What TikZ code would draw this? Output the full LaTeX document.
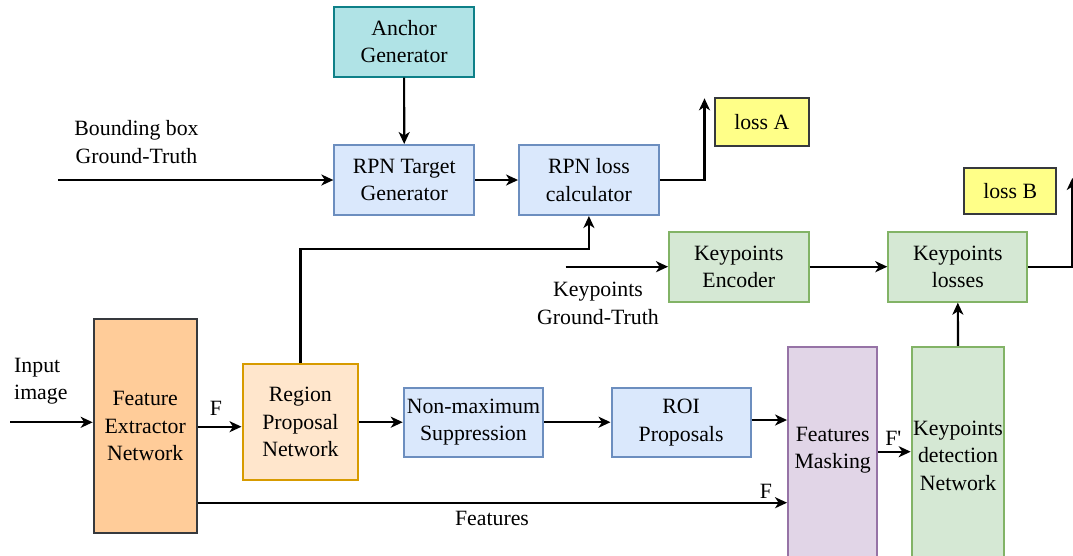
\documentclass[tikz,border=0pt]{standalone}
\usepackage{fontspec}
\setmainfont{Liberation Serif}
\newfontfamily\plainserif{Liberation Serif}
\usetikzlibrary{arrows.meta,calc}
\definecolor{tealfill}{HTML}{B0E3E6}
\definecolor{tealdraw}{HTML}{0E8088}
\definecolor{bluefill}{HTML}{DAE8FC}
\definecolor{bluedraw}{HTML}{6C8EBF}
\definecolor{yelfill}{HTML}{FFFF88}
\definecolor{darkdraw}{HTML}{36393D}
\definecolor{greenfill}{HTML}{D5E8D4}
\definecolor{greendraw}{HTML}{82B366}
\definecolor{orfill}{HTML}{FFCC99}
\definecolor{lorfill}{HTML}{FFE6CC}
\definecolor{lordraw}{HTML}{D79B00}
\definecolor{purfill}{HTML}{E1D5E7}
\definecolor{purdraw}{HTML}{9673A6}
\begin{document}
\begin{tikzpicture}[x=1pt,y=-1pt,
  every node/.style={font=\fontsize{21.8}{27.5}\selectfont},
  box/.style={draw, line width=2pt, inner sep=0pt, align=center},
  tealbox/.style={box, fill=tealfill, draw=tealdraw},
  bluebox/.style={box, fill=bluefill, draw=bluedraw},
  yelbox/.style={box, fill=yelfill, draw=darkdraw},
  greenbox/.style={box, fill=greenfill, draw=greendraw},
  orbox/.style={box, fill=orfill, draw=darkdraw},
  lorbox/.style={box, fill=lorfill, draw=lordraw},
  purbox/.style={box, fill=purfill, draw=purdraw},
  lbl/.style={inner sep=0pt, align=center},
  arr/.style={line width=2.2pt, -{Stealth[length=12pt,width=11pt,inset=3.5pt]}}
]
\useasboundingbox (0,0) rectangle (1073,555);

% boxes
\node[tealbox, minimum width=139.4pt, minimum height=70.2pt] (anchor) at (404.1,41.6) {Anchor\\Generator};
\node[bluebox, minimum width=139.7pt, minimum height=70pt] (rpnt) at (404.2,180) {RPN Target\\Generator};
\node[bluebox, minimum width=139.7pt, minimum height=70pt] (rpnl) at (588.9,180) {RPN loss\\calculator};
\node[yelbox, minimum width=93.5pt, minimum height=47.4pt] (lossA) at (761.8,122) {loss A};
\node[yelbox, minimum width=91.7pt, minimum height=46pt] (lossB) at (1010.2,191.3) {loss B};
\node[greenbox, minimum width=139.5pt, minimum height=70pt] (kpe) at (738.8,266.7) {Keypoints\\Encoder};
\node[greenbox, minimum width=139pt, minimum height=70pt] (kpl) at (957.8,266.7) {Keypoints\\losses};
\node[orbox, minimum width=103pt, minimum height=214pt] (fen) at (145.2,426.3) {Feature\\Extractor\\Network};
\node[lorbox, minimum width=115.8pt, minimum height=115.7pt] (rpn) at (300.4,422.2) {Region\\Proposal\\Network};
\node[bluebox, minimum width=139.3pt, minimum height=69.1pt] (nms) at (473.4,422.2) {Non-maximum\\Suppression};
\node[bluebox, minimum width=139.2pt, minimum height=69.6pt] (roi) at (681.1,422.5) {ROI\\Proposals};
\node[purbox, minimum width=89.3pt, minimum height=213.3pt] (fm) at (832.7,453.4) {};
\node[lbl] (fmtext) at (832.7,450) {Features\\Masking};
\node[greenbox, minimum width=92.6pt, minimum height=213.3pt] (kdn) at (958,453.4) {};
\node[lbl] (kdntext) at (958,455.5) {Keypoints\\detection\\Network};

% free labels
\node[lbl] (bbgt) at (136.5,142) {Bounding box\\Ground-Truth};
\node[lbl] (kpgt) at (598,303.3) {Keypoints\\Ground-Truth};
\node[lbl, anchor=west, align=left] (inimg) at (14,381) {Input\\image};
\node[lbl] (flab1) at (216,408.3) {F};
\node[lbl] (flab2) at (766,491.7) {F};
\node[lbl] (fplab) at (893.3,438.3) {\plainserif F'};
\node[lbl] (featlab) at (492,518.3) {Features};

% free ends
\coordinate (bbin) at (57.9,180);
\coordinate (kpin) at (565.7,266.7);
\coordinate (imgin) at (10,422.3);
\coordinate (lossAin) at (704.5,98.3);
\coordinate (lossBin) at (1072.3,178);
\coordinate (fline) at ([yshift=-76.4pt]fen.east);

% connectors
\draw[arr] (anchor.south) -- (rpnt.north);
\draw[arr] (bbin) -- (rpnt.west);
\draw[arr] (rpnt.east) -- (rpnl.west);
\draw[arr] (rpnl.east) -| (lossAin);
\draw[arr] (rpn.north) -- ++(0,-114.3) -| (rpnl.south);
\draw[arr] (kpin) -- (kpe.west);
\draw[arr] (kpe.east) -- (kpl.west);
\draw[arr] (kpl.east) -| (lossBin);
\draw[arr] (kdn.north) -- (kpl.south);
\draw[arr] (imgin) -- (imgin -| fen.west);
\draw[arr] ([yshift=-0.4pt]fen.east) -- ([yshift=-0.4pt]fen.east -| rpn.west);
\draw[arr] (rpn.east) -- (rpn.east -| nms.west);
\draw[arr] (nms.east) -- (nms.east -| roi.west);
\draw[arr] ([yshift=2.5pt]roi.east) -- ([yshift=2.5pt]roi.east -| fm.west);
\draw[arr] (fline) -- (fline -| fm.west);
\draw[arr] ([yshift=1.7pt]fm.east) -- ([yshift=1.7pt]fm.east -| kdn.west);
\end{tikzpicture}
\end{document}
